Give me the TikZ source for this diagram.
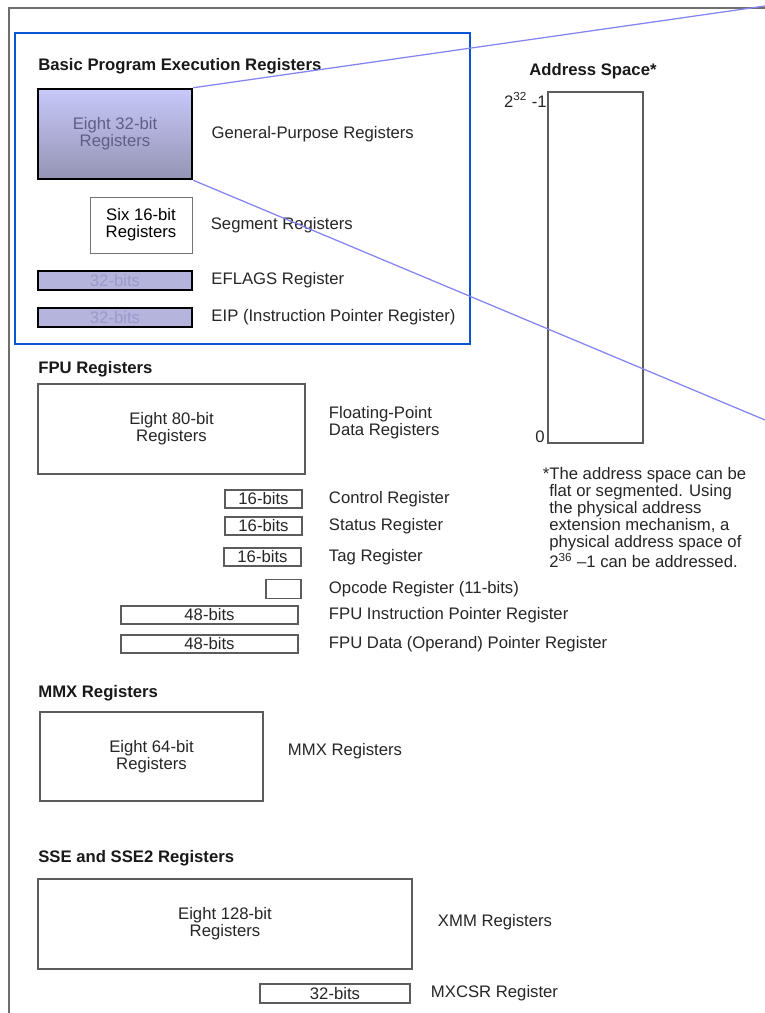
\documentclass[tikz,border=0pt]{standalone}
\usepackage{fontspec}
\setmainfont{Liberation Sans}
\usepackage{xcolor}
\usepackage{tikz}
\usetikzlibrary{positioning}
\definecolor{lavtop}{HTML}{C8C8FA}
\definecolor{lavbot}{HTML}{9494B4}
\definecolor{lavbar}{HTML}{B4B4DC}
\definecolor{lavtext}{HTML}{5E5E88}
\definecolor{bartext}{HTML}{9A9ACC}
\definecolor{frameblue}{HTML}{0A55D5}
\definecolor{zoomblue}{HTML}{8484F2}
\definecolor{boxgray}{HTML}{5C5C5C}
\definecolor{framegray}{HTML}{6E6E6E}
\newcommand{\regfont}{\fontsize{9.5}{9.6}\selectfont}
\tikzstyle{lbl} = [inner sep=0pt, font=\regfont, text=black!85]
\tikzstyle{heading} = [inner sep=0pt, font=\regfont\bfseries, text=black!90]
\tikzstyle{regbox} = [rectangle, draw=boxgray, line width=0.25mm, inner sep=0pt, align=center, font=\regfont, text=black!85]
\tikzstyle{gpbox} = [rectangle, draw=black, line width=0.5mm, top color=lavtop, bottom color=lavbot, inner sep=0pt, align=center, font=\regfont, text=lavtext]
\tikzstyle{barbox} = [rectangle, draw=black, line width=0.45mm, fill=lavbar, inner sep=0pt, minimum width=30.8mm, minimum height=3.8mm, font=\regfont, text=bartext]
\tikzstyle{segbox} = [rectangle, draw=black!55, line width=0.2mm, inner sep=0pt, align=center, font=\regfont, text=black]
\tikzstyle{note} = [inner sep=0pt, align=left, font=\fontsize{9.5}{9.7}\selectfont, text=black!85]
\tikzstyle{zoomline} = [draw=zoomblue, line width=0.25mm]

\begin{document}
\begin{tikzpicture}[x=0.2mm, y=-0.2mm]
    \useasboundingbox (0,0) rectangle (765,1013);
    \fill[white] (0,0) rectangle (765,1013);
    \draw[framegray, line width=0.35mm] (9,1013) -- (9,8) -- (765,8);
    % basic program execution registers
    \node[draw=frameblue, line width=0.45mm, minimum width=91mm, minimum height=62.2mm] (basic) at (242.5,188.5) {};
    \node[heading, anchor=west] (basictitle) at (38,66) {Basic Program Execution Registers};
    \node[gpbox, minimum width=30.8mm, minimum height=18mm] (gp) at (115,134) {Eight 32-bit\\Registers};
    \node[lbl, right=3.6mm of gp] (gplbl) {General-Purpose Registers};
    \node[segbox, minimum width=20.4mm, minimum height=11.2mm] (seg) at (141,225) {Six 16-bit\\Registers};
    \node[lbl, right=3.6mm of seg] (seglbl) {Segment Registers};
    \node[barbox] (eflags) at (115,280.5) {32-bits};
    \node[lbl, right=3.6mm of eflags] (eflagslbl) {EFLAGS Register};
    \node[barbox] (eip) at (115,317.5) {32-bits};
    \node[lbl, right=3.6mm of eip] (eiplbl) {EIP (Instruction Pointer Register)};
    % address space
    \node[heading] (astitle) at (593,71) {Address Space*};
    \node[regbox, minimum width=19mm, minimum height=70.2mm] (aspace) at (595.5,267.5) {};
    \node[lbl, anchor=east] (amax) at (547,100) {2\textsuperscript{32} -1};
    \node[lbl, anchor=east] (amin) at (545,437) {0};
    \node[note, anchor=north west] (asnote) at (549,467) {\llap{*}The address space can be\\flat or segmented. Using\\the physical address\\extension mechanism, a\\physical address space of\\2\textsuperscript{36} --1 can be addressed.};
    \coordinate (zt) at (765,6);
    \coordinate (zb) at (765,420);
    \draw[zoomline] (gp.north east) -- (zt);
    \draw[zoomline] (gp.south east) -- (zb);
    % fpu registers
    \node[heading, anchor=west] (fputitle) at (38,369) {FPU Registers};
    \node[regbox, minimum width=53.4mm, minimum height=18mm] (fpr) at (171.5,429) {Eight 80-bit\\Registers};
    \node[lbl, align=left, right=4.6mm of fpr, yshift=1.2mm] (fprlbl) {Floating-Point\\Data Registers};
    \node[regbox, minimum width=15.4mm, minimum height=3.6mm] (ctrl) at (263.5,499) {16-bits};
    \node[lbl, right=5.2mm of ctrl] (ctrllbl) {Control Register};
    \node[regbox, minimum width=15.4mm, minimum height=3.6mm] (stat) at (263.5,526) {16-bits};
    \node[lbl, right=5.2mm of stat] (statlbl) {Status Register};
    \node[regbox, minimum width=15.4mm, minimum height=3.6mm] (tag) at (262.5,557) {16-bits};
    \node[lbl, right=5.4mm of tag] (taglbl) {Tag Register};
    \node[regbox, minimum width=7mm, minimum height=3.8mm] (opc) at (283.5,589) {};
    \node[lbl, right=5.4mm of opc] (opclbl) {Opcode Register (11-bits)};
    \node[regbox, minimum width=35.4mm, minimum height=3.6mm] (fip) at (209.5,615) {48-bits};
    \node[lbl, right=6mm of fip] (fiplbl) {FPU Instruction Pointer Register};
    \node[regbox, minimum width=35.4mm, minimum height=3.6mm] (fdp) at (209.5,644) {48-bits};
    \node[lbl, right=6mm of fdp] (fdplbl) {FPU Data (Operand) Pointer Register};
    % mmx registers
    \node[heading, anchor=west] (mmxtitle) at (38,693) {MMX Registers};
    \node[regbox, minimum width=44.6mm, minimum height=17.8mm] (mmx) at (151.5,756.5) {Eight 64-bit\\Registers};
    \node[lbl, right=4.8mm of mmx, yshift=1mm] (mmxlbl) {MMX Registers};
    % sse and sse2 registers
    \node[heading, anchor=west] (ssetitle) at (38,858) {SSE and SSE2 Registers};
    \node[regbox, minimum width=74.8mm, minimum height=18mm] (xmm) at (225,924) {Eight 128-bit\\Registers};
    \node[lbl, right=5mm of xmm, yshift=0.4mm] (xmmlbl) {XMM Registers};
    \node[regbox, minimum width=30mm, minimum height=3.8mm] (mxcsr) at (335,993.5) {32-bits};
    \node[lbl, right=4mm of mxcsr] (mxcsrlbl) {MXCSR Register};
\end{tikzpicture}
\end{document}
